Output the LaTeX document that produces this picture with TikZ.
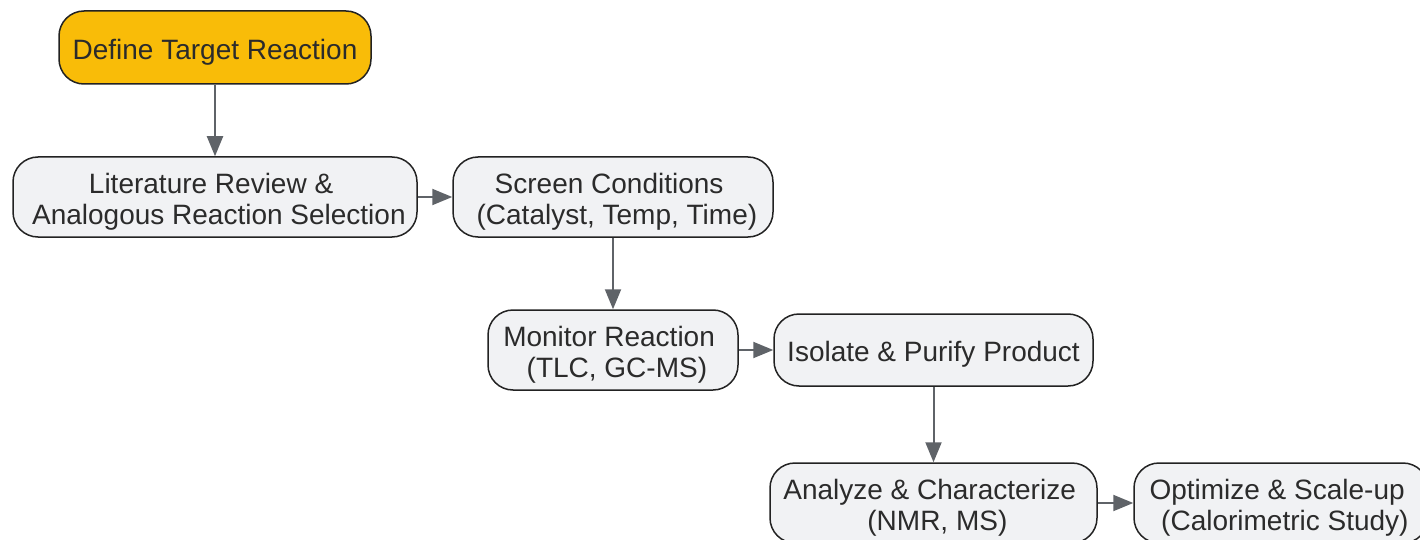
\documentclass[tikz,border=0pt]{standalone}
\usepackage{fontspec}
\setmainfont{Liberation Sans}
\usetikzlibrary{arrows.meta}
\definecolor{boxfill}{HTML}{F1F2F4}
\definecolor{startfill}{HTML}{F9BC08}
\definecolor{edgec}{HTML}{5F6368}
\definecolor{txtc}{HTML}{2B2B2B}
\definecolor{borderc}{HTML}{222222}
\newcommand{\gapsp}{\hspace*{0.278em}}
\tikzset{
  stepbox/.style={draw=borderc, line width=1.5pt, fill=boxfill, rounded corners=25pt, inner sep=0pt},
  startbox/.style={stepbox, fill=startfill},
  steptext/.style={align=center, text=txtc, inner sep=0pt,
    font=\fontsize{28}{31}\selectfont},
  flow/.style={draw=edgec, line width=2pt, -{Triangle[length=20pt,width=16pt]}}
}
\begin{document}
\begin{tikzpicture}[x=1pt,y=-1pt]
\useasboundingbox (0,0) rectangle (1420,540);
\node[startbox, minimum width=312pt, minimum height=73pt] (define) at (215,47.5) {};
\node[stepbox, minimum width=404pt, minimum height=80pt] (lit) at (215,197) {};
\node[stepbox, minimum width=320pt, minimum height=80pt] (screen) at (613,197) {};
\node[stepbox, minimum width=250pt, minimum height=80pt] (monitor) at (613,350) {};
\node[stepbox, minimum width=319pt, minimum height=72pt] (isolate) at (933.5,350) {};
\node[stepbox, minimum width=327pt, minimum height=80pt] (analyze) at (933.5,503) {};
\node[stepbox, minimum width=294pt, minimum height=80pt] (optimize) at (1281,503) {};
\node[steptext] (definet) at ([yshift=-4.5pt]define.center) {Define Target Reaction};
\node[steptext] (litt) at ([yshift=-4.5pt]lit.center) {Literature Review \&\gapsp\\\gapsp Analogous Reaction Selection};
\node[steptext] (screent) at ([yshift=-4.5pt]screen.center) {Screen Conditions\gapsp\\\gapsp(Catalyst, Temp, Time)};
\node[steptext] (monitort) at ([yshift=-4.5pt]monitor.center) {Monitor Reaction\gapsp\\\gapsp(TLC, GC-MS)};
\node[steptext] (isolatet) at ([yshift=-4.5pt]isolate.center) {Isolate \& Purify Product};
\node[steptext] (analyzet) at ([yshift=-4.5pt]analyze.center) {Analyze \& Characterize\gapsp\\\gapsp(NMR, MS)};
\node[steptext] (optimizet) at ([yshift=-4.5pt]optimize.center) {Optimize \& Scale-up\gapsp\\\gapsp(Calorimetric Study)};
\draw[flow] (define) -- (lit);
\draw[flow] (lit) -- (screen);
\draw[flow] (screen) -- (monitor);
\draw[flow] (monitor) -- (isolate);
\draw[flow] (isolate) -- (analyze);
\draw[flow] (analyze) -- (optimize);
\end{tikzpicture}
\end{document}
